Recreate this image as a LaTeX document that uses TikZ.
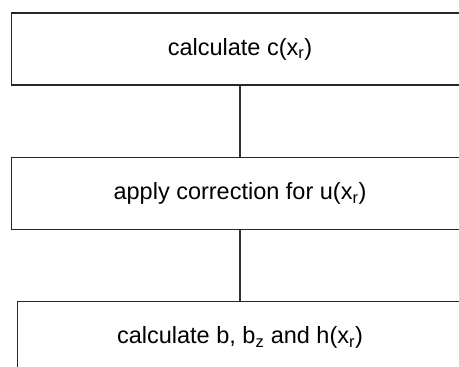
\documentclass[tikz,border=0pt]{standalone}
\usepackage{fontspec}
\setmainfont{Liberation Sans}
\begin{document}
\begin{tikzpicture}[x=1pt,y=-1pt,
  stepbox/.style={draw=black!85, line width=1.1pt, rectangle, minimum height=72pt, inner sep=0pt,
    font=\fontsize{23.5}{28}\selectfont},
  link/.style={draw=black!80, line width=1.1pt}]
\useasboundingbox (0,0) rectangle (459,367);
\clip (0,0) rectangle (459,367);
\node[stepbox, minimum width=457pt] (b1) at (240,49) {calculate c(x\textsubscript{r})};
\node[stepbox, minimum width=457pt] (b2) at (240,193.3) {apply correction for u(x\textsubscript{r})};
\node[stepbox, minimum width=445.4pt] (b3) at (240,337.7) {calculate b, b\textsubscript{z} and h(x\textsubscript{r})};
\draw[link] (b1.south) -- (b2.north);
\draw[link] (b2.south) -- (b3.north);
\end{tikzpicture}
\end{document}
